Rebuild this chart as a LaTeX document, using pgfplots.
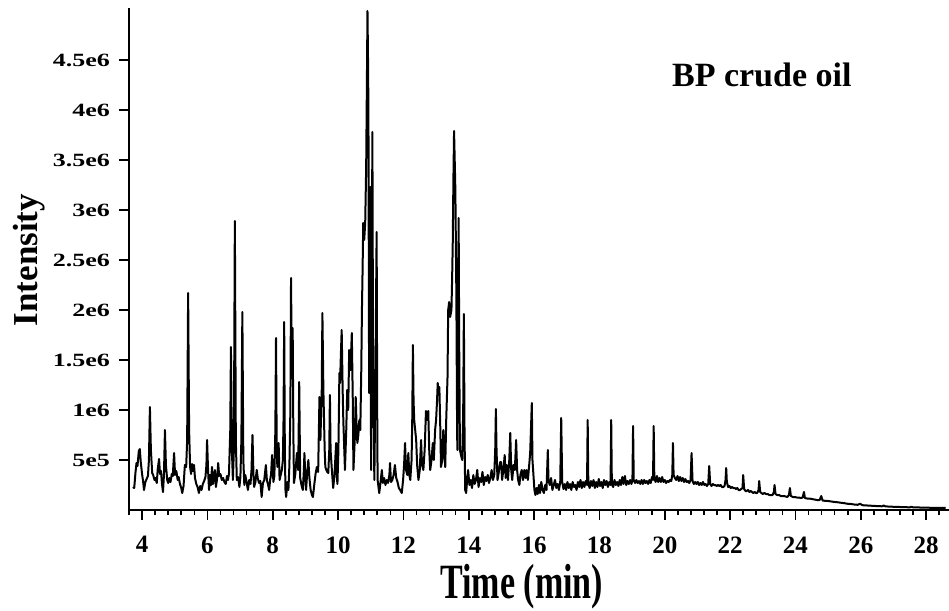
\documentclass[border=0pt]{standalone}
\usepackage{fontspec}
\setmainfont{Liberation Serif}
\usepackage{graphicx}
\usepackage{pgfplots}
\pgfplotsset{compat=1.18}
\usepackage{pgfplotstable}
\newcommand\yl[1]{\scalebox{1}[0.72]{\fontsize{26}{26}\selectfont\bfseries #1}}
% intensity in units of 1e5
\pgfplotstableread{
x y
3.72 2.3
3.76 2.2
3.80 3.8
3.83 4.7
3.86 4.4
3.90 5.9
3.93 6.1
3.96 4.8
4.00 3.6
4.03 2.9
4.06 2.0
4.10 2.8
4.14 3.1
4.18 3.4
4.21 5.0
4.24 10.3
4.27 6.0
4.31 3.7
4.34 3.5
4.38 3.0
4.41 3.2
4.45 2.7
4.48 4.1
4.52 5.1
4.55 3.6
4.58 3.9
4.61 2.6
4.64 1.8
4.67 3.5
4.70 8.0
4.73 4.5
4.77 3.0
4.80 2.7
4.84 3.2
4.87 2.8
4.91 3.6
4.94 3.4
4.98 5.7
5.01 3.5
5.05 3.9
5.09 3.0
5.12 3.3
5.16 2.6
5.20 2.2
5.23 1.7
5.27 2.4
5.31 4.5
5.35 4.3
5.38 7.0
5.41 21.7
5.44 8.0
5.47 4.3
5.50 3.6
5.53 4.6
5.56 3.9
5.59 4.5
5.62 3.2
5.66 2.6
5.70 2.3
5.74 1.7
5.78 2.4
5.82 2.0
5.86 2.6
5.90 2.9
5.94 3.3
5.97 4.5
5.99 7.0
6.02 4.0
6.05 2.0
6.08 3.5
6.11 2.5
6.14 4.3
6.17 2.6
6.20 3.3
6.23 4.0
6.26 2.3
6.30 3.2
6.33 4.7
6.36 3.4
6.40 3.6
6.44 3.0
6.48 3.2
6.52 2.8
6.56 2.6
6.60 3.4
6.63 3.0
6.66 3.6
6.70 8.0
6.72 16.3
6.75 6.0
6.78 3.0
6.81 6.0
6.84 28.9
6.87 7.0
6.90 3.0
6.94 3.3
6.98 2.3
7.01 3.3
7.04 7.0
7.07 19.8
7.10 5.0
7.13 2.5
7.16 3.5
7.20 2.8
7.24 2.0
7.28 3.0
7.32 2.6
7.35 4.0
7.38 7.5
7.41 3.5
7.43 2.3
7.47 2.8
7.51 4.0
7.54 3.2
7.58 2.7
7.62 2.9
7.66 1.3
7.70 2.7
7.74 3.0
7.79 4.5
7.82 3.0
7.86 2.5
7.89 2.0
7.92 3.0
7.95 3.6
7.98 5.5
8.02 2.8
8.05 3.4
8.08 8.0
8.10 17.2
8.12 7.0
8.14 4.3
8.18 6.7
8.21 3.0
8.25 3.6
8.28 4.0
8.31 5.0
8.33 9.0
8.35 18.8
8.37 6.0
8.39 2.0
8.41 1.3
8.45 2.8
8.48 2.0
8.51 4.5
8.54 10.0
8.56 23.2
8.58 15.0
8.61 18.2
8.63 8.0
8.65 2.7
8.69 3.6
8.74 5.7
8.78 4.0
8.81 12.8
8.84 3.2
8.88 2.5
8.92 2.0
8.95 3.8
8.97 5.7
9.00 3.0
9.02 2.0
9.05 3.5
9.09 5.0
9.12 3.3
9.16 2.0
9.20 1.5
9.23 1.3
9.27 2.5
9.31 3.6
9.35 4.3
9.39 3.8
9.43 11.3
9.46 7.0
9.48 9.7
9.50 12.0
9.52 19.7
9.55 12.0
9.57 9.0
9.59 6.0
9.61 4.3
9.64 4.0
9.67 3.8
9.70 3.7
9.73 6.0
9.75 11.5
9.77 6.0
9.81 4.0
9.85 2.2
9.89 3.5
9.94 6.7
9.96 3.5
9.98 2.6
10.01 6.0
10.04 13.7
10.06 12.7
10.09 16.0
10.11 18.0
10.14 12.0
10.16 9.0
10.19 6.0
10.21 4.0
10.25 8.0
10.28 12.0
10.31 10.0
10.34 16.0
10.38 14.0
10.42 17.7
10.45 11.0
10.47 4.0
10.51 7.0
10.54 11.3
10.57 8.0
10.59 6.7
10.62 7.5
10.65 9.0
10.68 8.0
10.71 14.0
10.73 20.0
10.75 24.0
10.77 28.7
10.80 27.0
10.83 28.7
10.86 34.3
10.88 42.0
10.90 49.9
10.92 44.0
10.93 38.8
10.95 11.7
10.97 25.0
10.99 32.3
11.01 4.0
11.03 20.0
11.05 37.8
11.07 15.0
11.09 8.7
11.11 3.0
11.14 12.0
11.18 27.8
11.20 8.0
11.21 3.0
11.26 1.7
11.30 2.8
11.34 4.0
11.37 2.7
11.41 3.2
11.45 2.5
11.49 3.0
11.53 2.7
11.57 3.5
11.59 4.7
11.62 2.8
11.66 3.0
11.70 3.5
11.74 4.5
11.78 3.2
11.82 2.8
11.86 2.2
11.90 2.0
11.95 1.7
11.99 3.0
12.02 4.5
12.05 6.7
12.08 4.0
12.12 3.5
12.15 5.7
12.18 3.5
12.21 3.0
12.25 5.0
12.27 9.0
12.29 16.5
12.31 11.0
12.33 9.0
12.36 8.0
12.39 7.0
12.42 4.5
12.46 3.0
12.50 4.0
12.54 7.0
12.57 4.5
12.61 4.0
12.65 6.0
12.69 9.9
12.72 9.0
12.76 9.9
12.79 6.0
12.82 4.0
12.86 5.0
12.90 6.7
12.93 5.0
12.97 8.0
13.00 9.0
13.03 11.0
13.05 12.7
13.08 11.5
13.10 12.3
13.13 8.0
13.15 4.3
13.19 5.0
13.22 8.0
13.25 6.0
13.28 4.3
13.31 9.0
13.35 13.3
13.37 20.0
13.40 20.8
13.43 19.3
13.47 20.0
13.49 23.0
13.51 26.7
13.53 33.0
13.55 37.9
13.57 35.0
13.59 32.0
13.61 25.0
13.62 21.7
13.64 10.0
13.65 6.0
13.67 18.0
13.69 29.2
13.71 15.0
13.73 6.0
13.76 5.5
13.80 5.0
13.83 10.0
13.85 19.6
13.87 8.0
13.89 2.0
13.92 1.7
13.95 3.0
13.98 4.0
14.02 2.5
14.06 3.0
14.10 2.2
14.14 3.5
14.18 2.6
14.22 3.0
14.26 4.0
14.30 2.3
14.34 3.2
14.38 2.8
14.42 3.8
14.46 2.5
14.50 3.3
14.54 2.9
14.58 3.5
14.62 2.7
14.66 3.2
14.70 4.0
14.74 3.0
14.78 3.5
14.81 6.0
14.83 10.1
14.85 6.0
14.88 3.0
14.92 3.8
14.96 4.8
14.99 4.8
15.02 3.0
15.06 4.0
15.10 5.5
15.13 3.2
15.16 4.5
15.20 3.0
15.24 5.0
15.27 7.7
15.30 4.0
15.33 3.0
15.37 4.5
15.41 4.0
15.45 7.0
15.48 4.0
15.51 3.0
15.55 2.5
15.58 3.5
15.62 4.0
15.66 3.0
15.70 4.0
15.74 3.2
15.77 4.0
15.81 3.0
15.85 4.5
15.88 5.7
15.90 7.7
15.93 10.7
15.95 5.0
15.98 3.5
16.01 2.0
16.04 1.5
16.08 2.2
16.11 1.6
16.15 2.5
16.18 1.7
16.22 2.8
16.26 2.0
16.30 1.7
16.34 2.5
16.38 2.0
16.42 6.0
16.44 3.0
16.48 2.5
16.52 3.2
16.56 2.0
16.60 2.5
16.64 3.0
16.68 2.2
16.72 2.6
16.76 2.0
16.80 2.8
16.83 9.2
16.86 2.8
16.90 2.1
16.94 2.6
16.98 2.0
17.02 2.8
17.06 2.2
17.10 2.6
17.14 2.0
17.18 2.8
17.22 2.3
17.26 2.5
17.30 2.0
17.34 2.8
17.38 2.3
17.42 3.0
17.46 2.2
17.50 2.8
17.54 2.3
17.58 2.9
17.62 2.5
17.64 9.0
17.66 2.6
17.70 2.2
17.74 2.9
17.78 2.4
17.82 3.0
17.86 2.2
17.90 2.8
17.94 2.3
17.98 3.1
18.02 2.4
18.06 2.8
18.10 2.2
18.14 3.0
18.18 2.5
18.22 2.9
18.26 2.3
18.30 2.8
18.34 2.5
18.36 9.0
18.38 2.6
18.42 2.3
18.46 3.0
18.50 2.5
18.54 2.8
18.58 2.4
18.62 3.0
18.66 2.5
18.70 3.3
18.74 2.6
18.78 3.4
18.82 2.5
18.86 2.9
18.90 2.6
18.94 3.0
18.98 2.6
19.01 3.0
19.03 8.4
19.05 3.0
19.09 2.7
19.13 3.0
19.17 2.7
19.21 2.9
19.25 2.6
19.29 3.0
19.33 2.6
19.37 3.0
19.41 2.7
19.45 2.9
19.49 2.6
19.53 3.0
19.57 2.7
19.61 3.3
19.64 3.0
19.66 8.4
19.68 3.2
19.72 2.8
19.76 3.4
19.80 2.8
19.84 3.2
19.88 2.8
19.92 3.3
19.96 2.8
20.00 3.0
20.04 2.7
20.08 2.9
20.12 2.8
20.16 3.0
20.20 2.9
20.23 3.5
20.25 6.7
20.27 3.5
20.31 3.2
20.35 3.0
20.39 3.4
20.43 2.9
20.47 3.3
20.51 2.9
20.55 3.2
20.59 2.8
20.63 3.1
20.67 2.8
20.71 2.9
20.75 2.7
20.79 3.0
20.82 5.7
20.85 2.9
20.89 2.6
20.93 2.8
20.97 2.6
21.01 2.8
21.05 2.5
21.09 2.7
21.13 2.5
21.17 2.8
21.21 2.5
21.25 2.6
21.29 2.4
21.33 2.6
21.36 4.4
21.39 2.6
21.43 2.4
21.47 2.6
21.51 2.5
21.55 2.5
21.59 2.4
21.63 2.5
21.67 2.4
21.71 2.5
21.75 2.3
21.79 2.3
21.83 2.4
21.86 3.0
21.88 4.2
21.90 2.8
21.94 2.3
21.98 2.4
22.02 2.2
22.06 2.3
22.10 2.2
22.14 2.2
22.18 2.1
22.22 2.2
22.26 2.0
22.30 2.0
22.34 2.1
22.38 2.2
22.40 3.5
22.43 2.1
22.47 1.9
22.51 1.9
22.55 2.0
22.59 1.8
22.63 1.9
22.67 1.8
22.71 1.7
22.75 1.8
22.79 1.7
22.83 1.7
22.87 2.0
22.89 2.9
22.92 1.8
22.96 1.7
23.00 1.6
23.05 1.7
23.10 1.6
23.15 1.6
23.20 1.5
23.25 1.5
23.30 1.5
23.34 1.8
23.36 2.5
23.39 1.6
23.44 1.5
23.50 1.5
23.55 1.4
23.60 1.4
23.65 1.4
23.70 1.35
23.75 1.3
23.80 1.5
23.83 2.2
23.86 1.4
23.92 1.3
23.98 1.3
24.04 1.25
24.10 1.25
24.16 1.2
24.22 1.25
24.26 1.8
24.29 1.2
24.35 1.15
24.42 1.15
24.50 1.1
24.58 1.05
24.66 1.0
24.74 1.0
24.79 1.4
24.83 0.95
24.90 0.92
25.00 0.9
25.10 0.85
25.20 0.8
25.30 0.77
25.40 0.72
25.50 0.68
25.60 0.62
25.70 0.6
25.80 0.55
25.90 0.52
25.98 0.62
26.05 0.48
26.20 0.45
26.35 0.42
26.50 0.39
26.65 0.37
26.70 0.45
26.75 0.36
26.90 0.34
27.05 0.31
27.20 0.3
27.35 0.28
27.50 0.27
27.55 0.33
27.60 0.26
27.80 0.25
28.00 0.23
28.20 0.22
28.40 0.21
28.60 0.2
}\chrom
\begin{document}
\begin{tikzpicture}
\begin{axis}[
  scale only axis,
  width=820pt, height=502pt,
  xmin=3.6, xmax=28.7,
  ymin=0, ymax=50.2,
  axis x line*=bottom, axis y line*=left,
  axis line style={line width=1.6pt},
  tick style={line width=1.6pt, black},
  tick align=outside,
  major tick length=10pt, minor tick length=5pt,
  xtick={4,6,...,28},
  minor xtick={3.6,4.0,...,28.5},
  ytick={5,10,15,20,25,30,35,40,45},
  yticklabels={},
  every x tick label/.append style={font=\fontsize{25}{25}\selectfont\bfseries, yshift=-13pt},
  xlabel={Time (min)},
  ylabel={Intensity},
  xlabel style={font=\fontsize{34}{34}\selectfont\bfseries, yscale=1.45, at={(axis description cs:0.479,-0.153)}, anchor=center},
  ylabel style={font=\fontsize{35}{35}\selectfont\bfseries, at={(axis description cs:-0.122,0.498)}, anchor=center, rotate=0},
  clip=true,
  /pgf/number format/assume math mode=true,
]
\addplot[black, line width=2pt, line join=round, mark=none] table[x=x, y=y] {\chrom};
\node[font=\fontsize{34}{34}\selectfont\bfseries, anchor=center] at (axis cs:22.97,43.5) {BP crude oil};
\coordinate (t1) at (axis cs:3.6,5);
\coordinate (t2) at (axis cs:3.6,10);
\coordinate (t3) at (axis cs:3.6,15);
\coordinate (t4) at (axis cs:3.6,20);
\coordinate (t5) at (axis cs:3.6,25);
\coordinate (t6) at (axis cs:3.6,30);
\coordinate (t7) at (axis cs:3.6,35);
\coordinate (t8) at (axis cs:3.6,40);
\coordinate (t9) at (axis cs:3.6,45);
\end{axis}
\foreach \c/\t in {t1/5e5,t2/1e6,t3/1.5e6,t4/2e6,t5/2.5e6,t6/3e6,t7/3.5e6,t8/4e6,t9/4.5e6}
  \node[anchor=east, inner sep=0pt, xshift=-19pt] at (\c) {\yl{\t}};
\pgfresetboundingbox
\path ([xshift=-129pt,yshift=-101pt]current axis.south west) rectangle ([yshift=8pt]current axis.north east);
\end{tikzpicture}
\end{document}
